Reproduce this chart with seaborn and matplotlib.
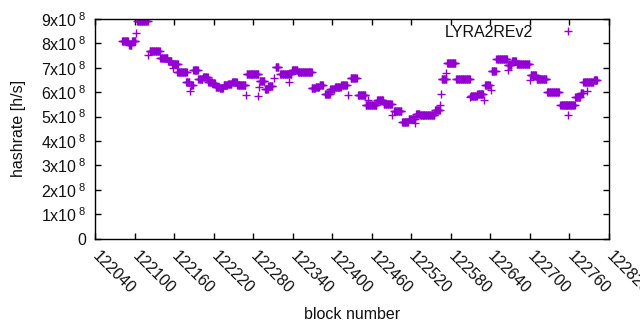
import matplotlib
matplotlib.use("Agg")
import matplotlib.pyplot as plt
import seaborn as sns
import pandas as pd

# piecewise-constant runs (block range start, end, hashrate in 1e8 h/s)
run_start = [122081, 122092, 122096, 122102, 122104, 122121, 122123, 122139, 122151, 122157,
             122159, 122165, 122178, 122184, 122185, 122189, 122197, 122204, 122212, 122218,
             122223, 122229, 122235, 122242, 122248, 122256, 122269, 122270, 122288, 122289,
             122290, 122298, 122303, 122312, 122314, 122321, 122334, 122335, 122339, 122348,
             122369, 122370, 122375, 122381, 122389, 122397, 122404, 122414, 122424, 122428,
             122439, 122451, 122455, 122458, 122468, 122478, 122491, 122494, 122506, 122516,
             122526, 122527, 122533, 122556, 122564, 122565, 122566, 122572, 122574, 122588,
             122609, 122610, 122620, 122631, 122632, 122641, 122642, 122649, 122666, 122667,
             122673, 122680, 122700, 122701, 122710, 122726, 122746, 122758, 122769, 122777,
             122786, 122781, 122797]
run_end = [122090, 122095, 122101, 122102, 122120, 122121, 122138, 122150, 122156, 122166,
           122159, 122179, 122183, 122184, 122188, 122196, 122203, 122211, 122217, 122222,
           122228, 122234, 122241, 122247, 122255, 122268, 122269, 122288, 122288, 122289,
           122297, 122302, 122309, 122312, 122318, 122333, 122334, 122338, 122347, 122369,
           122369, 122374, 122380, 122386, 122396, 122403, 122413, 122422, 122424, 122437,
           122450, 122457, 122455, 122467, 122477, 122490, 122491, 122505, 122515, 122525,
           122526, 122532, 122555, 122563, 122564, 122565, 122573, 122572, 122587, 122609,
           122609, 122619, 122629, 122631, 122639, 122641, 122648, 122665, 122672, 122667,
           122679, 122699, 122700, 122709, 122725, 122744, 122768, 122758, 122776, 122780,
           122786, 122796, 122802]
run_value = [8.09, 7.94, 8.08, 8.41, 8.90, 7.53, 7.68, 7.39, 7.26, 7.16,
             6.98, 6.84, 6.43, 6.05, 6.30, 6.90, 6.53, 6.64, 6.42, 6.37,
             6.20, 6.16, 6.30, 6.33, 6.41, 6.28, 5.89, 6.73, 5.85, 6.23,
             6.47, 6.13, 6.25, 6.57, 7.03, 6.73, 6.43, 6.75, 6.90, 6.82,
             6.19, 6.17, 6.20, 6.30, 5.92, 6.13, 6.20, 6.30, 5.89, 6.57,
             5.87, 5.48, 5.68, 5.48, 5.68, 5.52, 5.07, 5.23, 4.77, 4.90,
             4.74, 5.11, 5.07, 5.27, 5.48, 5.92, 6.53, 6.78, 7.19, 6.53,
             5.82, 5.85, 5.92, 5.68, 6.30, 6.09, 6.88, 7.35, 7.12, 6.91,
             7.28, 7.16, 6.50, 6.71, 6.54, 5.99, 5.46, 5.07, 5.80, 5.95,
             6.06, 6.40, 6.51]

series_name = "LYRA2REv2"
x_ticks = list(range(122040, 122821, 60))
y_ticks = [i * 1e8 for i in range(10)]
y_tick_labels = ["0"] + [f"{i}x10" + r"$^{\ 8}$" for i in range(1, 10)]

blocks, rates = [], []
for s, e, v in zip(run_start, run_end, run_value):
    for b in range(s, e + 1):
        blocks.append(b)
        rates.append(v * 1e8)
df = pd.DataFrame({"block": blocks, "hashrate": rates})

sns.set_style("ticks")
plt.rcParams["font.family"] = ["Liberation Sans", "DejaVu Sans"]
plt.rcParams["mathtext.fontset"] = "custom"
plt.rcParams["mathtext.rm"] = "Liberation Sans"
plt.rcParams["mathtext.it"] = "Liberation Sans"
plt.rcParams["mathtext.bf"] = "Liberation Sans"
plt.rcParams["mathtext.sf"] = "Liberation Sans"

FS = 11.5
COLOR = "#9400d3"

fig = plt.figure(figsize=(6.4, 3.3), dpi=100)
ax = fig.add_axes([95 / 640, 1 - 238.7 / 330, 514 / 640, 219.7 / 330])

sns.scatterplot(data=df, x="block", y="hashrate", marker="+", color=COLOR,
                s=27, linewidth=1.0, label=series_name, ax=ax, legend=False)

ax.set_xlim(122040, 122820)
ax.set_ylim(0, 9e8)
ax.set_xticks(x_ticks)
ax.set_xticklabels([str(t) for t in x_ticks], rotation=-45, ha="left", va="center",
                   rotation_mode="anchor", fontsize=FS, color="#111111")
ax.set_yticks(y_ticks)
ax.set_yticklabels(y_tick_labels, fontsize=FS, color="#111111")
ax.tick_params(direction="in", top=True, right=True, length=4.5, width=1.0, color="black")
ax.tick_params(axis="x", pad=11)
ax.tick_params(axis="y", pad=6)
for sp in ax.spines.values():
    sp.set_visible(True)
    sp.set_color("black")
    sp.set_linewidth(1.0)

ax.set_xlabel("block number", fontsize=FS, color="#111111")
ax.set_ylabel("hashrate [h/s]", fontsize=FS, color="#111111")
ax.xaxis.set_label_coords(0.5, -0.347)
ax.xaxis.label.set_va("center")
ax.yaxis.set_label_coords(-0.148, 0.5)
ax.yaxis.label.set_va("center")
ax.yaxis.label.set_ha("center")

handle = plt.Line2D([], [], linestyle="", marker="+", color=COLOR, markersize=5.2,
                    markeredgewidth=1.0)
leg = ax.legend([handle], [series_name], loc="upper right", frameon=False,
                markerfirst=False, fontsize=FS, borderpad=0, borderaxespad=0,
                handlelength=2.0, handletextpad=1.2,
                bbox_to_anchor=(584 / 640, 1 - 25 / 330), bbox_transform=fig.transFigure)
for t in leg.get_texts():
    t.set_color("#111111")

fig.savefig("out.png", dpi=100)
